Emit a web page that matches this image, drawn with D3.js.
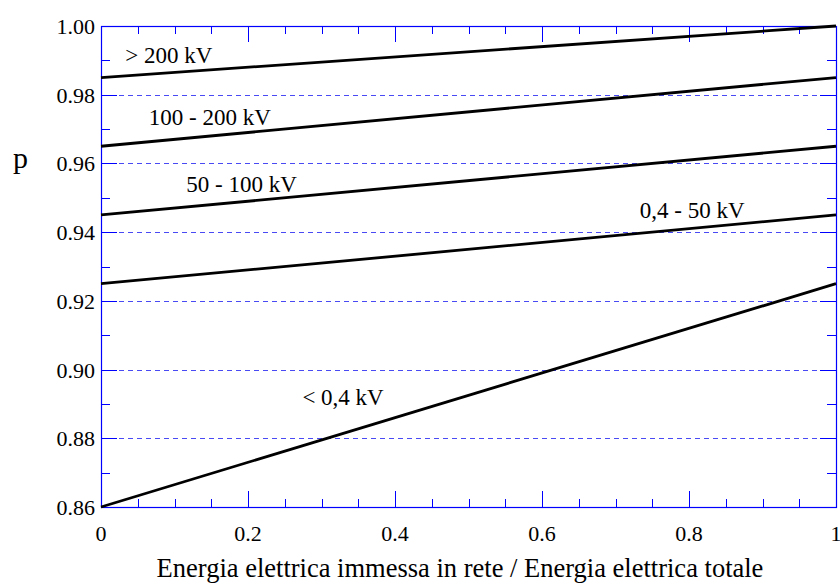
<!DOCTYPE html>
<html>
<head>
<meta charset="utf-8">
<script src="https://cdn.jsdelivr.net/npm/d3@7"></script>
<style>
  body { margin: 0; background: #fff; }
</style>
</head>
<body>
<script>
// series: p at x = 0 and x = 1
const seriesNames = ['> 200 kV', '100 - 200 kV', '50 - 100 kV', '0,4 - 50 kV', '< 0,4 kV']
const startValues = [0.985, 0.965, 0.945, 0.925, 0.86]
const endValues = [1.00, 0.985, 0.965, 0.945, 0.925]
// label anchor in data units
const labelX = [0.033, 0.065, 0.116, 0.733, 0.274]
const labelY = [0.9892, 0.9712, 0.9518, 0.9442, 0.8897]

const xTicks = [0, 0.2, 0.4, 0.6, 0.8, 1]
const xTickLabels = ['0', '0.2', '0.4', '0.6', '0.8', '1']
const yTicks = [0.86, 0.88, 0.90, 0.92, 0.94, 0.96, 0.98, 1.00]
const gridValues = [0.88, 0.90, 0.92, 0.94, 0.96, 0.98]

const w = 840
const h = 583
const padLeft = 101, padRight = 836, padTop = 26, padBottom = 507
const blue = '#0000ff'
const serif = '"Liberation Serif", "Times New Roman", Times, "DejaVu Serif", serif'

const xScale = d3.scaleLinear().domain([0, 1]).range([padLeft, padRight])
const yScale = d3.scaleLinear().domain([0.86, 1.0]).range([padBottom, padTop])

const svg = d3.select('body').append('svg')
  .attr('width', w)
  .attr('height', h)
  .attr('font-family', serif)
  .style('font-family', serif)

// dashed grid
svg.selectAll('.grid')
  .data(gridValues)
  .enter()
  .append('line')
  .attr('x1', padLeft).attr('x2', padRight)
  .attr('y1', d => Math.round(yScale(d)) + 0.5).attr('y2', d => Math.round(yScale(d)) + 0.5)
  .attr('stroke', '#4a4af5')
  .attr('stroke-width', 1)
  .attr('stroke-dasharray', '5,4')

// minor + major ticks on all sides, pointing inward
const xMinor = d3.range(0, 21).map(i => i * 0.05)
const yMinor = d3.range(0, 15).map(i => 0.86 + i * 0.01)
const isMajorX = v => Math.abs(v * 5 - Math.round(v * 5)) < 1e-6
const isMajorY = v => Math.abs(v * 50 - Math.round(v * 50)) < 1e-6

const tickG = svg.append('g').attr('stroke', blue).attr('stroke-width', 1)
xMinor.forEach(v => {
  const len = isMajorX(v) ? 16 : 8
  const x = Math.round(xScale(v)) + 0.5
  tickG.append('line').attr('x1', x).attr('x2', x).attr('y1', padBottom).attr('y2', padBottom - len)
  tickG.append('line').attr('x1', x).attr('x2', x).attr('y1', padTop).attr('y2', padTop + len)
})
yMinor.forEach(v => {
  const len = isMajorY(v) ? 16 : 9
  const y = Math.round(yScale(v)) + 0.5
  tickG.append('line').attr('x1', padLeft).attr('x2', padLeft + len).attr('y1', y).attr('y2', y)
  tickG.append('line').attr('x1', padRight).attr('x2', padRight - len).attr('y1', y).attr('y2', y)
})

// frame
svg.append('rect')
  .attr('x', padLeft + 0.5).attr('y', padTop + 0.5)
  .attr('width', padRight - padLeft).attr('height', padBottom - padTop)
  .attr('fill', 'none')
  .attr('stroke', blue)
  .attr('stroke-width', 1.2)

// tick labels
svg.selectAll('.xlab')
  .data(xTicks)
  .enter()
  .append('text')
  .attr('x', d => xScale(d))
  .attr('y', padBottom + 34)
  .attr('text-anchor', 'middle')
  .style('font-size', '22px')
  .text((d, i) => xTickLabels[i])

svg.selectAll('.ylab')
  .data(yTicks)
  .enter()
  .append('text')
  .attr('x', padLeft - 6)
  .attr('y', d => yScale(d) + 8)
  .attr('text-anchor', 'end')
  .style('font-size', '22px')
  .text(d => d.toFixed(2))

// lines
const lineData = seriesNames.map((name, i) => [[0, startValues[i]], [1, endValues[i]]])
const line = d3.line().x(d => xScale(d[0])).y(d => yScale(d[1]))
svg.selectAll('.series')
  .data(lineData)
  .enter()
  .append('path')
  .attr('d', line)
  .attr('fill', 'none')
  .attr('stroke', '#000')
  .attr('stroke-width', 2.8)

// series labels
svg.selectAll('.slab')
  .data(seriesNames)
  .enter()
  .append('text')
  .attr('x', (d, i) => xScale(labelX[i]))
  .attr('y', (d, i) => yScale(labelY[i]))
  .style('font-size', '23px')
  .text(d => d)

// axis titles
svg.append('text')
  .attr('x', 13)
  .attr('y', 168)
  .style('font-size', '30px')
  .text('p')

svg.append('text')
  .attr('x', 460)
  .attr('y', 577)
  .attr('text-anchor', 'middle')
  .style('font-size', '26.5px')
  .text('Energia elettrica immessa in rete / Energia elettrica totale')
</script>
</body>
</html>
